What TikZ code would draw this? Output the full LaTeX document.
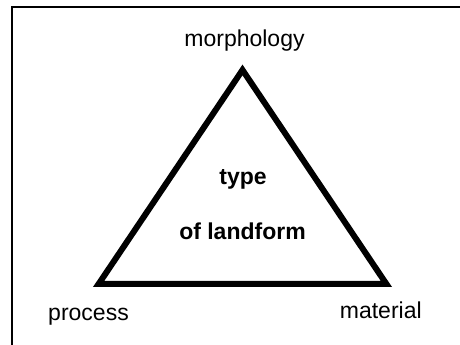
\documentclass[tikz,border=0pt]{standalone}
\usepackage{fontspec}
\setmainfont{Liberation Sans}
\begin{document}
\begin{tikzpicture}[x=1pt,y=1pt,
  label/.style={inner sep=0pt, anchor=base, font=\fontsize{23}{27}\selectfont},
  centre/.style={label, font=\fontsize{23}{27}\selectfont\bfseries},
  side/.style={line width=6pt, line join=miter, draw=black}]
  \useasboundingbox (0,0) rectangle (460,345);
  % frame (top and left edges)
  \draw[line width=2pt] (12,0) -- (12,338) -- (461,338);
  % triangle corners
  \coordinate (top) at (242.5,275);
  \coordinate (left) at (98.6,61);
  \coordinate (right) at (386.4,61);
  \draw[side] (left) -- (top) -- (right) -- cycle;
  % corner labels
  \node[label] (morph) at (244.5,298.5) {morphology};
  \node[label] (proc) at (88.5,24.5) {process};
  \node[label] (mat) at (380.8,26.5) {material};
  % centre label
  \node[centre] (type) at (243,160) {type};
  \node[centre] (land) at (242.5,105) {of landform};
\end{tikzpicture}
\end{document}
